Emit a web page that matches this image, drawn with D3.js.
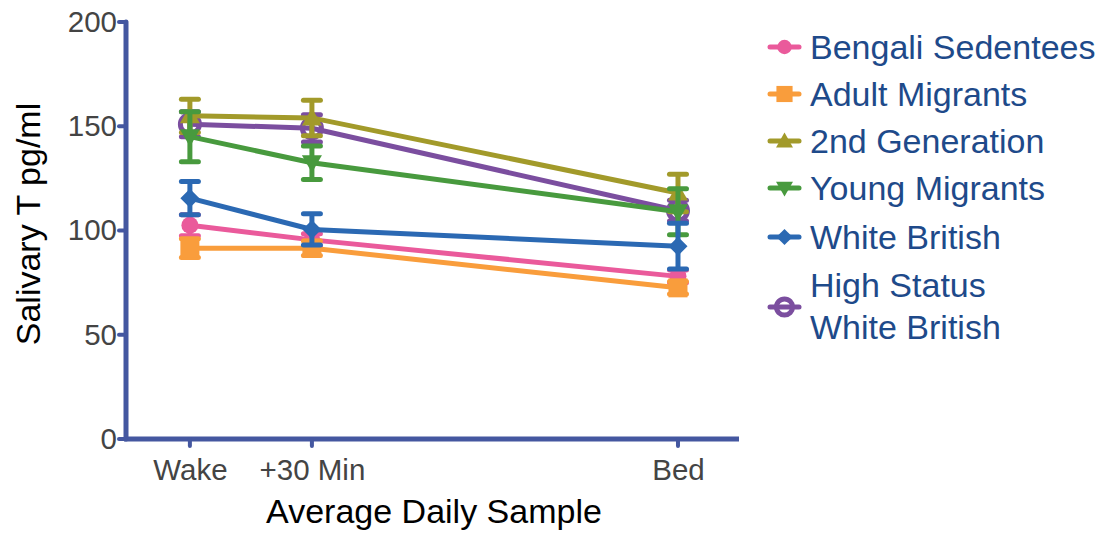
<!DOCTYPE html>
<html>
<head>
<meta charset="utf-8">
<script src="https://cdn.jsdelivr.net/npm/d3@7"></script>
<style>
  body { margin: 0; background: #fff; }
  text { font-family: "Liberation Sans", Arial, sans-serif; }
</style>
</head>
<body>
<div id="chart-area"></div>
<script>
// samples along the day
const samples = ['Wake', '+30 Min', 'Bed']
const samplePos = [1, 2, 5]
const yTicks = [0, 50, 100, 150, 200]

const groups = ['Bengali Sedentees', 'Adult Migrants', '2nd Generation', 'Young Migrants', 'White British', 'High Status White British']
const colors = ['#ea5a9b', '#f99d3c', '#a29a2a', '#489a3e', '#2b69b3', '#7b4e9f']
const symbols = ['circle', 'square', 'triUp', 'triDown', 'diamond', 'ring']

// means and error (one per sample)
const bengali = [102.5, 95.5, 78]
const bengaliErr = [5, 3, 3]
const adult = [91.5, 91.5, 72.5]
const adultErr = [4.5, 3.5, 3]
const second = [155, 154, 118]
const secondErr = [8, 8.5, 9]
const young = [145, 132.5, 109]
const youngErr = [12, 8, 11]
const white = [115.5, 100.5, 92.5]
const whiteErr = [8, 7.5, 11]
const highStatus = [151, 149, 109.5]
const highStatusErr = [6, 6.5, 5]

const series = [
  { name: groups[0], vals: bengali, err: bengaliErr, i: 0 },
  { name: groups[1], vals: adult, err: adultErr, i: 1 },
  { name: groups[2], vals: second, err: secondErr, i: 2 },
  { name: groups[3], vals: young, err: youngErr, i: 3 },
  { name: groups[4], vals: white, err: whiteErr, i: 4 },
  { name: groups[5], vals: highStatus, err: highStatusErr, i: 5 }
]
// drawing order, back to front
const drawOrder = [5, 2, 3, 0, 1, 4]

const W = 1111, H = 536
const axisColor = '#4457a0'

const svg = d3.select('#chart-area').append('svg')
  .attr('width', W)
  .attr('height', H)

const x = d3.scaleLinear().domain([0.46, 5.5]).range([124, 739])
const y = d3.scaleLinear().domain([0, 200]).range([439, 22])

// axes
const xAxis = svg.append('g')
  .attr('transform', `translate(0, ${y(0)})`)
  .call(d3.axisBottom(x).tickValues(samplePos).tickFormat((d, k) => samples[k]).tickSize(0).tickPadding(20))
xAxis.select('.domain').remove()
xAxis.selectAll('text').attr('font-size', 29.5).attr('fill', '#444')
  .attr('font-family', '"Liberation Sans", Arial, sans-serif')

const yAxis = svg.append('g')
  .attr('transform', `translate(${x.range()[0] + 2}, 0)`)
  .call(d3.axisLeft(y).tickValues(yTicks).tickSize(0).tickPadding(9))
yAxis.select('.domain').remove()
yAxis.selectAll('text').attr('font-size', 29.5).attr('fill', '#444')
  .attr('font-family', '"Liberation Sans", Arial, sans-serif')

// axis lines + tick marks drawn thick with round caps
svg.append('line')
  .attr('x1', x.range()[0] + 2).attr('x2', x.range()[0] + 2)
  .attr('y1', y(200)).attr('y2', y(0))
  .attr('stroke', axisColor).attr('stroke-width', 5).attr('stroke-linecap', 'round')
svg.append('line')
  .attr('x1', x.range()[0]).attr('x2', x.range()[1])
  .attr('y1', y(0)).attr('y2', y(0))
  .attr('stroke', axisColor).attr('stroke-width', 5)

svg.selectAll('.ytick-mark').data(yTicks).enter().append('line')
  .attr('x1', x.range()[0] - 5).attr('x2', x.range()[0] + 2)
  .attr('y1', d => y(d)).attr('y2', d => y(d))
  .attr('stroke', axisColor).attr('stroke-width', 4).attr('stroke-linecap', 'round')

svg.selectAll('.xtick-mark').data(samplePos).enter().append('line')
  .attr('x1', d => x(d)).attr('x2', d => x(d))
  .attr('y1', y(0)).attr('y2', y(0) + 7)
  .attr('stroke', axisColor).attr('stroke-width', 4).attr('stroke-linecap', 'round')

// axis titles
svg.append('text')
  .attr('x', 434).attr('y', 523)
  .attr('text-anchor', 'middle')
  .attr('font-size', 34)
  .attr('fill', '#000')
  .text('Average Daily Sample')

svg.append('text')
  .attr('transform', `translate(40, 224) rotate(-90)`)
  .attr('text-anchor', 'middle')
  .attr('font-size', 34)
  .attr('fill', '#000')
  .text('Salivary T pg/ml')

// marker helper
function drawMarker(sel, type, color, cx, cy, scale) {
  const s = scale || 1
  if (type === 'circle') {
    sel.append('circle').attr('cx', cx).attr('cy', cy).attr('r', 8.5 * s).attr('fill', color)
  } else if (type === 'square') {
    const h = 9.5 * s
    sel.append('rect').attr('x', cx - h).attr('y', cy - h).attr('width', 2 * h).attr('height', 2 * h).attr('fill', color)
  } else if (type === 'triUp') {
    const h = 10 * s
    sel.append('path').attr('d', `M${cx},${cy - h} L${cx + h},${cy + h * 0.75} L${cx - h},${cy + h * 0.75} Z`).attr('fill', color)
  } else if (type === 'triDown') {
    const h = 10 * s
    sel.append('path').attr('d', `M${cx},${cy + h} L${cx + h},${cy - h * 0.75} L${cx - h},${cy - h * 0.75} Z`).attr('fill', color)
  } else if (type === 'diamond') {
    const h = 9.5 * s
    sel.append('path').attr('d', `M${cx},${cy - h} L${cx + h},${cy} L${cx},${cy + h} L${cx - h},${cy} Z`).attr('fill', color)
  } else if (type === 'ring') {
    sel.append('circle').attr('cx', cx).attr('cy', cy).attr('r', 9.5 * s)
      .attr('fill', 'none').attr('stroke', color).attr('stroke-width', 5)
  }
}

const line = d3.line().x((d, k) => x(samplePos[k])).y(d => y(d))

drawOrder.forEach(idx => {
  const s = series[idx]
  const c = colors[s.i]
  const g = svg.append('g')

  // error bars
  s.vals.forEach((v, k) => {
    const cx = x(samplePos[k])
    const lo = y(v - s.err[k]), hi = y(v + s.err[k])
    g.append('line').attr('x1', cx).attr('x2', cx).attr('y1', lo).attr('y2', hi)
      .attr('stroke', c).attr('stroke-width', 5)
    ;[lo, hi].forEach(yy => {
      g.append('line').attr('x1', cx - 8.5).attr('x2', cx + 8.5).attr('y1', yy).attr('y2', yy)
        .attr('stroke', c).attr('stroke-width', 5).attr('stroke-linecap', 'round')
    })
  })

  g.append('path')
    .attr('d', line(s.vals))
    .attr('fill', 'none')
    .attr('stroke', c)
    .attr('stroke-width', 5)

  s.vals.forEach((v, k) => drawMarker(g, symbols[s.i], c, x(samplePos[k]), y(v), 1))
})

// legend
const legend = svg.append('g')
const rowY = [47, 94, 141, 188, 237]
series.forEach((s, k) => {
  const c = colors[s.i]
  const ly = k < 5 ? rowY[k] : 307
  legend.append('line').attr('x1', 770).attr('x2', 799).attr('y1', ly).attr('y2', ly)
    .attr('stroke', c).attr('stroke-width', 5).attr('stroke-linecap', 'round')
  drawMarker(legend, symbols[s.i], c, 784.5, ly, 0.85)
  if (k < 5) {
    legend.append('text').attr('x', 810).attr('y', ly + 12)
      .attr('font-size', 34).attr('fill', '#1e4a8a').text(s.name)
  } else {
    legend.append('text').attr('x', 810).attr('y', 297)
      .attr('font-size', 34).attr('fill', '#1e4a8a').text('High Status')
    legend.append('text').attr('x', 810).attr('y', 339)
      .attr('font-size', 34).attr('fill', '#1e4a8a').text('White British')
  }
})
</script>
</body>
</html>
